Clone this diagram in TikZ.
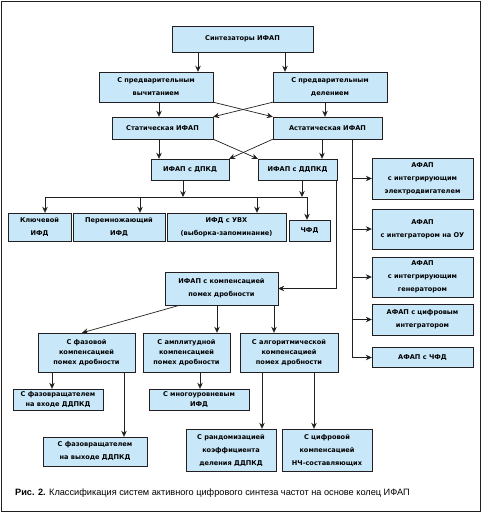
\documentclass[tikz,border=0pt]{standalone}
\usepackage{fontspec}
\setmainfont{Liberation Sans}
\newfontfamily\boxfont{DejaVu Sans}
\usetikzlibrary{shapes,arrows,arrows.meta,positioning,calc}
\usepackage{xcolor}
\definecolor{boxblue}{RGB}{200,232,250}
\definecolor{linegray}{RGB}{35,31,32}

\begin{document}
\begin{tikzpicture}[x=1pt, y=-1pt]
  \tikzstyle{block} = [rectangle, draw=linegray, fill=boxblue, align=center, inner sep=1pt, font=\boxfont\fontsize{6.6}{10}\selectfont\bfseries]
  \tikzstyle{wide} = [font=\boxfont\fontsize{6.6}{13}\selectfont\bfseries]
  \tikzstyle{arrow} = [linegray, line width=0.7pt, ->, >={Stealth[length=6pt,width=5.5pt]}]
  \useasboundingbox (0,0) rectangle (482,513);
  \draw [linegray, line width=1.6pt] (1.5,1.5) rectangle (480.5,511.5);

  % upper levels
  \node [block, minimum width=141pt, minimum height=26pt] (synth) at (242.5,39) {Синтезаторы ИФАП};
  \node [block, wide, minimum width=114pt, minimum height=30pt] (subtr) at (156,87) {С предварительным\\вычитанием};
  \node [block, wide, minimum width=114pt, minimum height=30pt] (divid) at (330,87) {С предварительным\\делением};
  \node [block, minimum width=101pt, minimum height=22pt] (stat) at (162.5,128) {Статическая ИФАП};
  \node [block, minimum width=109pt, minimum height=22pt] (astat) at (327.5,128) {Астатическая ИФАП};
  \node [block, minimum width=78pt, minimum height=21pt] (dpkd) at (190,169.5) {ИФАП с ДПКД};
  \node [block, minimum width=79pt, minimum height=21pt] (ddpkd) at (297.5,169.5) {ИФАП с ДДПКД};

  % phase detectors
  \node [block, wide, minimum width=63pt, minimum height=28pt] (key) at (39.5,227) {Ключевой\\ИФД};
  \node [block, wide, minimum width=92pt, minimum height=28pt] (mult) at (119,227) {Перемножающий\\ИФД};
  \node [block, wide, minimum width=119pt, minimum height=28pt] (uvh) at (226.5,227) {ИФД с УВХ\\(выборка-запоминание)};
  \node [block, minimum width=41pt, minimum height=21pt] (cfd) at (309.5,230.5) {ЧФД};

  % astatic branch
  \node [block, wide, minimum width=101pt, minimum height=41pt] (motor) at (422.5,178.5) {АФАП\\с интегрирующим\\электродвигателем};
  \node [block, wide, minimum width=101pt, minimum height=40pt] (opamp) at (422.5,229) {АФАП\\с интегратором на ОУ};
  \node [block, wide, minimum width=101pt, minimum height=40pt] (gen) at (422.5,277) {АФАП\\с интегрирующим\\генератором};
  \node [block, wide, minimum width=101pt, minimum height=31pt] (dint) at (422.5,319.5) {АФАП с цифровым\\интегратором};
  \node [block, minimum width=101pt, minimum height=20pt] (afcfd) at (422.5,357.5) {АФАП с ЧФД};

  % compensation
  \node [block, wide, minimum width=113pt, minimum height=33pt] (comp) at (221.5,288.5) {ИФАП с компенсацией\\помех дробности};
  \node [block, minimum width=97pt, minimum height=39pt] (phase) at (86.5,352.5) {С фазовой\\компенсацией\\помех дробности};
  \node [block, minimum width=87pt, minimum height=39pt] (ampl) at (186.5,352.5) {С амплитудной\\компенсацией\\помех дробности};
  \node [block, minimum width=98pt, minimum height=39pt] (algo) at (289,352.5) {С алгоритмической\\компенсацией\\помех дробности};
  \node [block, minimum width=90pt, minimum height=21pt] (phin) at (58,399.5) {С фазовращателем\\на входе ДДПКД};
  \node [block, wide, minimum width=104pt, minimum height=29pt] (phout) at (95,451.5) {С фазовращателем\\на выходе ДДПКД};
  \node [block, minimum width=100pt, minimum height=21pt] (multi) at (199,399.5) {С многоуровневым\\ИФД};
  \node [block, wide, minimum width=90pt, minimum height=42pt] (rand) at (231,450) {С рандомизацией\\коэффициента\\деления ДДПКД};
  \node [block, wide, minimum width=90pt, minimum height=42pt] (digit) at (327,450) {С цифровой\\компенсацией\\НЧ-составляющих};

  \node [anchor=west, inner sep=0pt, font=\fontsize{9.2}{11}\selectfont] (caption) at (15,493) {\textbf{Рис. 2.} Классификация систем активного цифрового синтеза частот на основе колец ИФАП};

  % connectors
  \draw [arrow] ([xshift=-44.5pt]synth.south) -- ([xshift=-44.5pt]synth.south |- subtr.north);
  \draw [arrow] ([xshift=42.5pt]synth.south) -- ([xshift=42.5pt]synth.south |- divid.north);
  \draw [arrow] ([xshift=3pt]subtr.south) -- ([xshift=3pt]subtr.south |- stat.north);
  \draw [arrow] ([xshift=-5pt]divid.south) -- ([xshift=-5pt]divid.south |- astat.north);
  \draw [arrow] (subtr.south east) -- (astat.north west);
  \draw [arrow] (divid.south west) -- (stat.north east);
  \draw [arrow] ([xshift=-3.5pt]stat.south) -- ([xshift=-3.5pt]stat.south |- dpkd.north);
  \draw [arrow] ([xshift=-5.5pt]astat.south) -- ([xshift=-5.5pt]astat.south |- ddpkd.north);
  \draw [arrow] (stat.south east) -- (ddpkd.north west);
  \draw [arrow] (astat.south west) -- (dpkd.north east);

  \coordinate (bus) at (0,197);
  \draw [arrow] ([xshift=-7pt]dpkd.south) -- ([xshift=-7pt]dpkd.south |- bus);
  \draw [arrow] ([xshift=4.5pt]ddpkd.south) -- ([xshift=4.5pt]ddpkd.south |- bus);
  \draw [linegray, line width=0.7pt] ([xshift=5.5pt]key.north |- bus) -- ([xshift=-2.5pt]cfd.north |- bus);
  \draw [arrow] ([xshift=5.5pt]key.north |- bus) -- ([xshift=5.5pt]key.north);
  \draw [arrow] ([xshift=21pt]mult.north |- bus) -- ([xshift=21pt]mult.north);
  \draw [arrow] ([xshift=30.5pt]uvh.north |- bus) -- ([xshift=30.5pt]uvh.north);
  \draw [arrow] ([xshift=-2.5pt]cfd.north |- bus) -- ([xshift=-2.5pt]cfd.north);

  \coordinate (trunk) at ([xshift=24.5pt]astat.south);
  \draw [linegray, line width=0.7pt] (trunk) -- (trunk |- afcfd.west);
  \foreach \n in {motor,opamp,gen,dint,afcfd}
    \draw [arrow] (trunk |- \n.west) -- (\n.west);

  \draw [arrow] ([xshift=-1pt]ddpkd.south east) -- ([xshift=-1pt]ddpkd.south east |- comp.east) -- (comp.east);
  \draw [arrow] ([xshift=15pt]comp.south west) -- ([xshift=-4.5pt]phase.north);
  \draw [arrow] ([xshift=-4.5pt]comp.south) -- ([xshift=-4.5pt]comp.south |- ampl.north);
  \draw [arrow] ([xshift=52.5pt]comp.south) -- ([xshift=52.5pt]comp.south |- algo.north);
  \draw [arrow] ([xshift=-34.5pt]phase.south) -- ([xshift=-34.5pt]phase.south |- phin.north);
  \draw [arrow] ([xshift=37.5pt]phase.south) -- ([xshift=37.5pt]phase.south |- phout.north);
  \draw [arrow] ([xshift=13.5pt]ampl.south) -- ([xshift=13.5pt]ampl.south |- multi.north);
  \draw [arrow] ([xshift=-27pt]algo.south) -- ([xshift=-27pt]algo.south |- rand.north);
  \draw [arrow] ([xshift=25pt]algo.south) -- ([xshift=25pt]algo.south |- digit.north);
\end{tikzpicture}
\end{document}
